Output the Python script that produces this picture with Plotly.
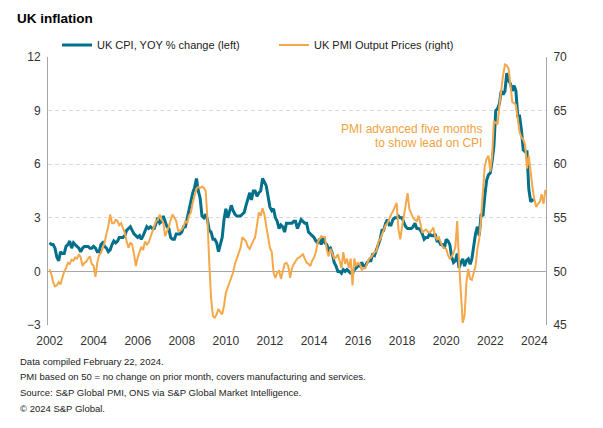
import pandas as pd
import plotly.graph_objects as go

# UK CPI, YoY % change, monthly Jan 2002 - Jan 2024
cpi_values = [
    1.6, 1.5, 1.5, 1.3, 0.8, 0.6, 1.1, 1.0, 1.0, 1.4, 1.5, 1.7,   # 2002
    1.3, 1.6, 1.5, 1.4, 1.3, 1.1, 1.3, 1.4, 1.4, 1.4, 1.3, 1.3,   # 2003
    1.4, 1.3, 1.1, 1.1, 1.5, 1.6, 1.4, 1.3, 1.1, 1.2, 1.5, 1.7,   # 2004
    1.6, 1.7, 1.9, 1.9, 1.9, 2.0, 2.3, 2.4, 2.5, 2.3, 2.1, 2.0,   # 2005
    1.9, 2.0, 1.8, 2.0, 2.2, 2.5, 2.4, 2.5, 2.4, 2.4, 2.7, 3.0,   # 2006
    2.7, 2.8, 3.1, 2.8, 2.5, 2.4, 1.9, 1.8, 1.8, 2.1, 2.1, 2.1,   # 2007
    2.2, 2.5, 2.5, 3.0, 3.3, 3.8, 4.4, 4.7, 5.2, 4.5, 4.1, 3.1,   # 2008
    3.0, 3.2, 2.9, 2.3, 2.2, 1.8, 1.8, 1.6, 1.1, 1.5, 1.9, 2.9,   # 2009
    3.5, 3.0, 3.4, 3.7, 3.4, 3.2, 3.1, 3.1, 3.1, 3.2, 3.3, 3.7,   # 2010
    4.0, 4.4, 4.0, 4.5, 4.5, 4.2, 4.4, 4.5, 5.2, 5.0, 4.8, 4.2,   # 2011
    3.6, 3.4, 3.5, 3.0, 2.8, 2.4, 2.6, 2.5, 2.2, 2.7, 2.7, 2.7,   # 2012
    2.7, 2.8, 2.8, 2.4, 2.7, 2.9, 2.8, 2.7, 2.7, 2.2, 2.1, 2.0,   # 2013
    1.9, 1.7, 1.6, 1.8, 1.5, 1.9, 1.6, 1.5, 1.2, 1.3, 1.0, 0.5,   # 2014
    0.3, 0.0, 0.0, -0.1, 0.1, 0.0, 0.1, 0.0, -0.1, -0.1, 0.1, 0.2,  # 2015
    0.3, 0.3, 0.5, 0.3, 0.3, 0.5, 0.6, 0.6, 1.0, 0.9, 1.2, 1.6,   # 2016
    1.8, 2.3, 2.3, 2.7, 2.9, 2.6, 2.6, 2.9, 3.0, 3.0, 3.1, 3.0,   # 2017
    3.0, 2.7, 2.5, 2.4, 2.4, 2.4, 2.5, 2.7, 2.4, 2.4, 2.3, 2.1,   # 2018
    1.8, 1.9, 1.9, 2.1, 2.0, 2.0, 2.1, 1.7, 1.7, 1.5, 1.5, 1.3,   # 2019
    1.8, 1.7, 1.5, 0.8, 0.5, 0.6, 1.0, 0.2, 0.5, 0.7, 0.3, 0.6,   # 2020
    0.7, 0.4, 0.7, 1.5, 2.1, 2.5, 2.0, 3.2, 3.1, 4.2, 5.1, 5.4,   # 2021
    5.5, 6.2, 7.0, 9.0, 9.1, 9.4, 10.1, 9.9, 10.1, 11.1, 10.7, 10.5,  # 2022
    10.1, 10.4, 10.1, 8.7, 8.7, 7.9, 6.8, 6.7, 6.7, 4.6, 3.9, 4.0,  # 2023
    4.0,                                                         # 2024
]

# UK PMI Output Prices index, monthly Aug 2001 - Feb 2024 (plotted advanced five months)
pmi_values = [
    50.2, 49.7, 49.0, 48.6, 48.7, 49.0, 48.8, 49.5, 50.0, 50.3, 50.8, 50.7,
    51.1, 51.0, 51.3, 51.2, 51.6, 51.3, 50.5, 50.8, 50.9, 51.2, 51.4, 50.7,
    50.5, 49.5, 50.8, 51.5, 51.7, 52.2, 52.7, 53.5, 54.2, 55.3, 54.5, 54.5,
    54.8, 54.7, 54.3, 54.5, 54.0, 53.6, 52.8, 52.2, 52.7, 52.5, 51.6, 50.5,
    51.3, 51.8, 52.3, 52.0, 52.8, 52.5, 52.7, 53.2, 53.8, 54.2, 54.7, 54.8,
    55.3, 54.8, 54.5, 53.3, 53.7, 54.2, 54.8, 55.3, 55.0, 54.7, 53.8, 53.8,
    53.9, 54.2, 54.7, 54.5, 55.2, 55.5, 56.4, 57.2, 57.7, 57.9, 57.8, 57.9,
    57.8, 57.5, 55.0, 50.8, 47.5, 45.8, 45.7, 46.0, 46.5, 46.2, 46.0, 46.8,
    48.0, 48.5, 49.0, 49.5, 49.9, 50.7, 51.2, 51.8, 52.2, 53.2, 53.0, 52.8,
    52.3, 52.1, 52.5, 52.8, 53.2, 54.3, 55.5, 55.2, 55.9, 55.3, 54.2, 53.0,
    52.2, 51.8, 49.9, 49.4, 49.9, 50.1, 49.3, 50.0, 50.7, 50.8, 50.5, 49.4,
    50.3, 50.7, 51.0, 51.2, 51.3, 51.5, 51.6, 51.2, 50.8, 50.7, 50.5, 51.0,
    51.3, 51.8, 52.7, 53.0, 53.3, 53.2, 53.2, 52.0, 51.4, 52.1, 51.7, 51.2,
    51.3, 51.6, 51.0, 50.3, 51.8, 50.7, 51.2, 50.3, 51.2, 48.7, 51.2, 50.5,
    50.8, 50.7, 50.1, 50.3, 50.3, 50.7, 51.2, 51.3, 51.6, 51.8, 51.9, 52.7,
    53.0, 53.5, 53.8, 54.3, 54.5, 55.0, 55.3, 55.6, 56.0, 56.4, 53.9, 53.0,
    54.2, 55.2, 56.0, 57.3, 55.8, 55.3, 55.0, 54.8, 54.7, 55.2, 54.3, 53.6,
    53.8, 53.9, 53.7, 53.6, 53.8, 54.1, 53.3, 53.0, 53.2, 52.7, 52.3, 52.2,
    52.1, 51.5, 51.2, 51.4, 51.7, 52.3, 54.7, 50.8, 47.8, 45.2, 45.9, 49.0,
    50.2, 49.3, 49.2, 49.8, 50.5, 52.1, 53.0, 55.0, 57.7, 59.8, 60.5, 60.8,
    59.3, 60.8, 64.0, 63.8, 63.7, 65.5, 67.0, 68.3, 69.3, 69.2, 68.9, 67.0,
    65.8, 65.7, 65.5, 64.2, 63.0, 62.5, 62.3, 61.8, 59.6, 60.8, 59.0, 57.8,
    56.7, 56.0, 56.3, 56.5, 57.2, 56.3, 57.6,
]
pmi_lead_months = 5

cpi_dates = pd.date_range("2002-01-01", periods=len(cpi_values), freq="MS")
pmi_dates = pd.date_range("2001-08-01", periods=len(pmi_values), freq="MS") + pd.DateOffset(months=pmi_lead_months)

title_text = "UK inflation"
cpi_name = "UK CPI, YOY % change (left)"
pmi_name = "UK PMI Output Prices (right)"
annotation_lines = ["PMI advanced five months", "to show lead on CPI"]
footnotes = [
    "Data compiled February 22, 2024.",
    "PMI based on 50 = no change on prior month, covers manufacturing and services.",
    "Source: S&P Global PMI, ONS via S&P Global Market Intelligence.",
    "\u00a9 2024 S&P Global.",
]

TEAL = "#03708b"
ORANGE = "#f5a84a"
FONT = "Liberation Sans, Arial, sans-serif"

# page body has an 8px margin; figure sized so page = 603x428
OFF = 8
W, H = 603 - 2 * OFF, 428 - 2 * OFF
PLOT_L, PLOT_R, PLOT_T, PLOT_B = 48, 546, 57, 325   # page pixels
ML, MT = PLOT_L - OFF, PLOT_T - OFF
MR, MB = W - (PLOT_R - OFF), H - (PLOT_B - OFF)
PW, PH = PLOT_R - PLOT_L, PLOT_B - PLOT_T


def px(x):
    return (x - PLOT_L) / PW


def py(y):
    return (PLOT_B - y) / PH


fig = go.Figure()
fig.add_trace(go.Scatter(x=cpi_dates, y=cpi_values, name=cpi_name, mode="lines",
                         line=dict(color=TEAL, width=3), yaxis="y"))
fig.add_trace(go.Scatter(x=pmi_dates, y=pmi_values, name=pmi_name, mode="lines",
                         line=dict(color=ORANGE, width=2), yaxis="y2"))

fig.update_layout(
    width=W, height=H,
    margin=dict(l=ML, r=MR, t=MT, b=MB, pad=0, autoexpand=False),
    paper_bgcolor="white", plot_bgcolor="white",
    font=dict(family=FONT, size=12, color="#333333"),
    title=dict(text="<b>" + title_text + "</b>", xref="container", yref="container",
               x=(17 - OFF) / W, xanchor="left", y=1 - (18 - OFF) / H, yanchor="middle",
               font=dict(size=13.5, color="#000000")),
    showlegend=True,
    legend=dict(orientation="h", xref="paper", yref="paper",
                x=px(57), xanchor="left",
                y=py(45), yanchor="middle",
                font=dict(size=11, color="#222222"),
                entrywidth=172, entrywidthmode="pixels",
                bgcolor="rgba(0,0,0,0)", itemwidth=30),
    xaxis=dict(type="date", range=["2001-12-06", "2024-07-12"],
               tick0="2002-01-01", dtick="M24", tickformat="%Y",
               showgrid=False, zeroline=False, showline=False,
               ticks="outside", ticklen=5, tickcolor="rgba(0,0,0,0)",
               tickfont=dict(size=12, color="#333333")),
    yaxis=dict(range=[-3, 12], dtick=3, tick0=0, showgrid=True,
               gridcolor="#d9d9d9", griddash="4px,3px", gridwidth=1,
               zeroline=True, zerolinecolor="#a6a6a6", zerolinewidth=1,
               showline=True, linecolor="#a6a6a6", linewidth=1,
               ticks="outside", ticklen=4, tickcolor="rgba(0,0,0,0)",
               tickfont=dict(size=12, color="#333333")),
    yaxis2=dict(range=[45, 70], dtick=5, tick0=45, overlaying="y", side="right",
                showgrid=False, zeroline=False, showline=True,
                linecolor="#a6a6a6", linewidth=1,
                ticks="outside", ticklen=4, tickcolor="rgba(0,0,0,0)",
                tickfont=dict(size=12, color="#333333")),
)

for i, t in enumerate(annotation_lines):
    fig.add_annotation(text=t, xref="paper", yref="paper",
                       x=px(484), xanchor="right",
                       y=py(129 + i * 14), yanchor="middle",
                       align="right", showarrow=False,
                       font=dict(size=12, color="#f0a23e"))

for i, t in enumerate(footnotes):
    fig.add_annotation(text=t, xref="paper", yref="paper",
                       x=px(18), xanchor="left",
                       y=py(361 + i * 15.7), yanchor="middle",
                       showarrow=False, align="left",
                       font=dict(size=9.5, color="#222222"))

fig.write_html("out.html")
